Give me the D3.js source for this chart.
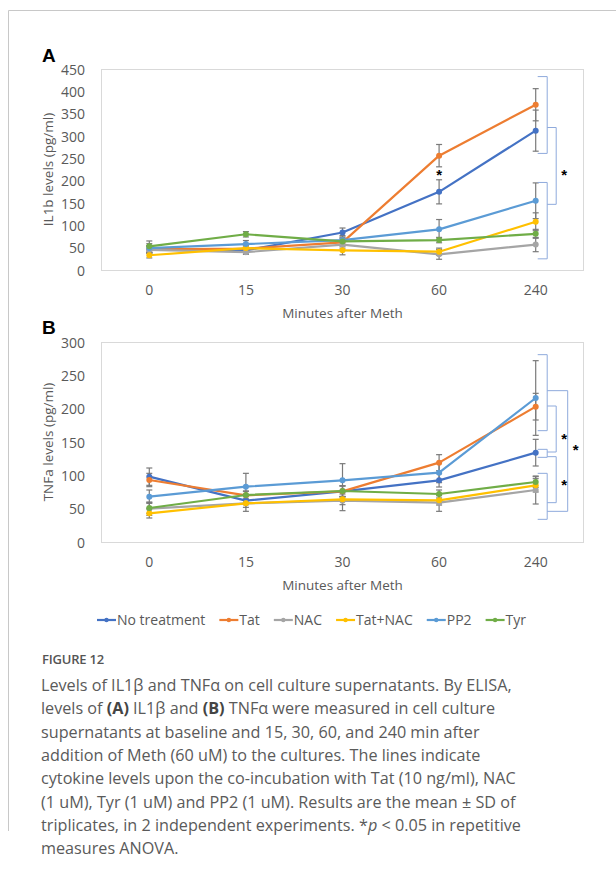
<!DOCTYPE html>
<html>
<head>
<meta charset="utf-8">
<script src="https://cdn.jsdelivr.net/npm/d3@7"></script>
<style>
  html, body { margin: 0; padding: 0; background: #fff; }
  svg { display: block; }
  .tick text { font-family: "Open Sans", sans-serif; }
</style>
</head>
<body>
<svg id="fig" width="616" height="884"></svg>
<script>
// ---- Data ----
const timepoints = ["0", "15", "30", "60", "240"];
const seriesNames = ["No treatment", "Tat", "NAC", "Tat+NAC", "PP2", "Tyr"];
const seriesColors = ["#4472C4", "#ED7D31", "#A5A5A5", "#FFC000", "#5B9BD5", "#70AD47"];

// IL1b (pg/ml), mean and SD per time point
const il1bNoTreatment = [47, 44, 84, 175, 312];
const il1bTat         = [46, 48, 62, 256, 370];
const il1bNAC         = [45, 40, 57, 35, 57];
const il1bTatNAC      = [33, 49, 44, 41, 108];
const il1bPP2         = [49, 58, 67, 91, 155];
const il1bTyr         = [53, 80, 64, 67, 81];
const il1bNoTreatmentSD = [8, 6, 10, 27, 46];
const il1bTatSD         = [8, 6, 8, 25, 36];
const il1bNACSD         = [8, 5, 8, 11, 16];
const il1bTatNACSD      = [6, 5, 10, 8, 20];
const il1bPP2SD         = [10, 8, 10, 22, 40];
const il1bTyrSD         = [12, 6, 8, 6, 10];

// TNFa (pg/ml), mean and SD per time point
const tnfNoTreatment = [98, 62, 76, 92.5, 134];
const tnfTat         = [93, 70, 76, 119, 203];
const tnfNAC         = [50, 58, 62, 59, 78];
const tnfTatNAC      = [43, 58, 64, 62.5, 85];
const tnfPP2         = [68, 83, 92.5, 104, 216];
const tnfTyr         = [51, 70.5, 76.5, 72, 90];
const tnfNoTreatmentSD = [13, 6, 8, 10, 20];
const tnfTatSD         = [10, 6, 8, 12, 20];
const tnfNACSD         = [10, 12, 15, 13, 21];
const tnfTatNACSD      = [7, 6, 8, 7, 10];
const tnfPP2SD         = [10, 20, 25, 15, 56];
const tnfTyrSD         = [8, 6, 8, 6, 8];

const il1bTicks = [0, 50, 100, 150, 200, 250, 300, 350, 400, 450];
const tnfTicks  = [0, 50, 100, 150, 200, 250, 300];

// significance brackets at 240 min: [upper value, lower value, nesting level]
const il1bBrackets = [[433, 261, 0], [196, 25, 0], [319, 147, 1]];
const tnfBrackets  = [[281, 167, 0], [139, 127, 0], [103, 34, 0],
                      [204, 135, 1], [128, 59, 1], [227, 46, 2]];
// asterisks: [time point, value, nesting level (-1 = on the time point itself)]
const il1bStars = [["60", 219, -1], ["240", 219, 1]];
const tnfStars  = [["240", 159, 1], ["240", 89.5, 1], ["240", 142.5, 2]];

const captionLines = [
  [["Levels of IL1β and TNFα on cell culture supernatants. By ELISA,", ""]],
  [["levels of ", ""], ["(A)", "b"], [" IL1β and ", ""], ["(B)", "b"], [" TNFα were measured in cell culture", ""]],
  [["supernatants at baseline and 15, 30, 60, and 240 min after", ""]],
  [["addition of Meth (60 uM) to the cultures. The lines indicate", ""]],
  [["cytokine levels upon the co-incubation with Tat (10 ng/ml), NAC", ""]],
  [["(1 uM), Tyr (1 uM) and PP2 (1 uM). Results are the mean ± SD of", ""]],
  [["triplicates, in 2 independent experiments. *", ""], ["p", "i"], [" < 0.05 in repetitive", ""]],
  [["measures ANOVA.", ""]]
];

// ---- Drawing ----
const svg = d3.select("#fig");
const FONT = "'Open Sans', sans-serif";
const AXIS_TEXT = "#595959";

// figure frame
svg.append("path")
  .attr("d", "M8.5,831 V10.5 H616")
  .attr("fill", "none").attr("stroke", "#c8c8c8").attr("stroke-width", 1);

function panel(cfg) {
  const { top, bottom, letter, letterY, yMax, ticks, yLabel, values, sds, brackets, stars } = cfg;
  const left = 101, right = 584;
  const g = svg.append("g");

  const x = d3.scaleBand().domain(timepoints).range([left, right]);
  const cx = t => x(t) + x.bandwidth() / 2;
  const y = d3.scaleLinear().domain([0, yMax]).range([bottom, top]);

  // plot area border
  g.append("rect")
    .attr("x", left + 0.5).attr("y", top + 0.5)
    .attr("width", right - left - 1).attr("height", bottom - top)
    .attr("fill", "none").attr("stroke", "#d9d9d9").attr("stroke-width", 1);

  // y axis
  const ya = g.append("g").attr("transform", `translate(${left},0)`)
    .call(d3.axisLeft(y).tickValues(ticks).tickSize(0).tickPadding(16));
  ya.select(".domain").remove();
  ya.selectAll("text").attr("font-size", 14).attr("fill", AXIS_TEXT).attr("dy", "0.36em");

  // x axis
  const xa = g.append("g").attr("transform", `translate(0,${bottom})`)
    .call(d3.axisBottom(x).tickSize(0).tickPadding(15));
  xa.select(".domain").remove();
  xa.selectAll("text").attr("font-size", 14).attr("fill", AXIS_TEXT);

  g.append("text")
    .attr("x", (left + right) / 2).attr("y", bottom + 48)
    .attr("text-anchor", "middle").attr("font-family", FONT)
    .attr("font-size", 13.5).attr("fill", AXIS_TEXT)
    .text("Minutes after Meth");

  g.append("text")
    .attr("transform", `translate(53,${(top + bottom) / 2}) rotate(-90)`)
    .attr("text-anchor", "middle").attr("font-family", FONT)
    .attr("font-size", 13.5).attr("fill", AXIS_TEXT)
    .text(yLabel);

  g.append("text")
    .attr("x", 42).attr("y", letterY)
    .attr("font-family", "'Liberation Sans', Arial, sans-serif")
    .attr("font-weight", "bold").attr("font-size", 19).attr("fill", "#000")
    .text(letter);

  const series = seriesNames.map((name, i) => ({
    name, color: seriesColors[i],
    pts: timepoints.map((t, j) => ({ t, v: values[i][j], sd: sds[i][j] }))
  }));

  // error bars
  const eb = g.append("g").attr("stroke", "#7a7a7a").attr("stroke-width", 1.2);
  series.forEach(s => s.pts.forEach(p => {
    const xx = cx(p.t);
    eb.append("line").attr("x1", xx).attr("x2", xx).attr("y1", y(p.v + p.sd)).attr("y2", y(p.v - p.sd));
    [p.v + p.sd, p.v - p.sd].forEach(v =>
      eb.append("line").attr("x1", xx - 3).attr("x2", xx + 3).attr("y1", y(v)).attr("y2", y(v)));
  }));

  // lines and markers
  const line = d3.line().x(p => cx(p.t)).y(p => y(p.v));
  series.forEach(s => {
    g.append("path").datum(s.pts).attr("d", line)
      .attr("fill", "none").attr("stroke", s.color).attr("stroke-width", 2.2)
      .attr("stroke-linejoin", "round");
    g.selectAll(null).data(s.pts).enter().append("circle")
      .attr("cx", p => cx(p.t)).attr("cy", p => y(p.v)).attr("r", 3)
      .attr("fill", s.color);
  });

  // significance brackets beside the last time point
  const x240 = cx("240");
  const levelGeom = [{ tick: 2, spine: 11.5 }, { tick: 11.5, spine: 20.5 }, { tick: 11.5, spine: 32 }];
  brackets.forEach(([v1, v2, lvl]) => {
    const gm = levelGeom[lvl];
    const xs = x240 + gm.spine, xt = x240 + gm.tick;
    g.append("path")
      .attr("d", `M${xt},${y(v1)} H${xs} V${y(v2)} H${xt}`)
      .attr("fill", "none").attr("stroke", "#8FAADC").attr("stroke-width", 1);
  });
  stars.forEach(([t, v, lvl]) => {
    const xx = lvl < 0 ? cx(t) : x240 + levelGeom[lvl].spine + 8;
    g.append("text")
      .attr("x", xx).attr("y", y(v) + 8)
      .attr("text-anchor", "middle").attr("font-family", "'Liberation Sans', Arial, sans-serif")
      .attr("font-weight", "bold").attr("font-size", 15).attr("fill", "#000")
      .text("*");
  });
}

panel({
  top: 69, bottom: 270, letter: "A", letterY: 62, yMax: 450, ticks: il1bTicks,
  yLabel: "IL1b levels (pg/ml)",
  values: [il1bNoTreatment, il1bTat, il1bNAC, il1bTatNAC, il1bPP2, il1bTyr],
  sds: [il1bNoTreatmentSD, il1bTatSD, il1bNACSD, il1bTatNACSD, il1bPP2SD, il1bTyrSD],
  brackets: il1bBrackets, stars: il1bStars
});

panel({
  top: 342, bottom: 542, letter: "B", letterY: 334, yMax: 300, ticks: tnfTicks,
  yLabel: "TNFa levels (pg/ml)",
  values: [tnfNoTreatment, tnfTat, tnfNAC, tnfTatNAC, tnfPP2, tnfTyr],
  sds: [tnfNoTreatmentSD, tnfTatSD, tnfNACSD, tnfTatNACSD, tnfPP2SD, tnfTyrSD],
  brackets: tnfBrackets, stars: tnfStars
});

// legend
const legend = svg.append("g").attr("font-family", FONT).attr("font-size", 14).attr("fill", AXIS_TEXT);
let lx = 97;
seriesNames.forEach((name, i) => {
  const it = legend.append("g").attr("transform", `translate(${lx},620)`);
  it.append("line").attr("x1", 0).attr("x2", 19).attr("stroke", seriesColors[i]).attr("stroke-width", 2.2);
  it.append("circle").attr("cx", 9.5).attr("r", 2.2).attr("fill", seriesColors[i]);
  const tx = it.append("text").attr("x", 20).attr("dy", "0.35em").attr("fill", AXIS_TEXT).text(name);
  lx += 20 + tx.node().getComputedTextLength() + 14;
});

// caption
svg.append("text")
  .attr("x", 42).attr("y", 664)
  .attr("font-family", FONT).attr("font-weight", 600).attr("font-size", 13)
  .attr("fill", "#555").attr("letter-spacing", -0.2)
  .text("FIGURE 12");

const cap = svg.append("g").attr("font-family", FONT).attr("font-size", 16.2).attr("fill", "#5a5a5a");
captionLines.forEach((parts, i) => {
  const t = cap.append("text").attr("x", 41).attr("y", 691 + i * 23.3);
  parts.forEach(([s, style]) => {
    const sp = t.append("tspan").text(s);
    if (style === "b") sp.attr("font-weight", "bold").attr("fill", "#444");
    if (style === "i") sp.attr("font-style", "italic");
  });
});
</script>
</body>
</html>
